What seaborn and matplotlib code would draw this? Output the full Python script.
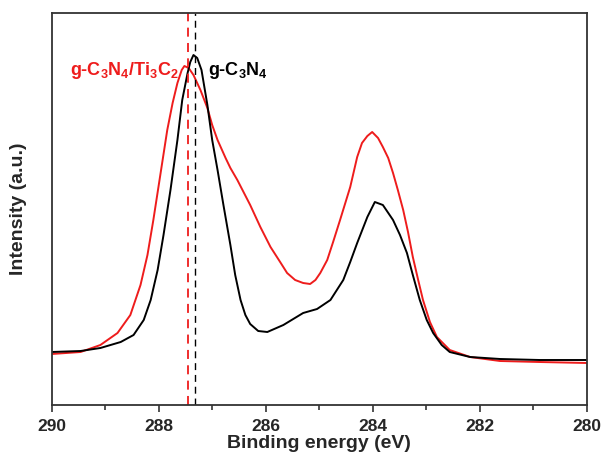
import numpy as np
import pandas as pd
import matplotlib
matplotlib.use("Agg")
import matplotlib.pyplot as plt
import seaborn as sns

# ---- data ----
energy_gcn = [290.00, 289.46, 289.09, 288.71, 288.47, 288.28, 288.15, 288.02, 287.91, 287.78,
              287.65, 287.56, 287.46, 287.41, 287.35, 287.28, 287.20, 287.09, 287.00, 286.90,
              286.79, 286.66, 286.57, 286.47, 286.38, 286.29, 286.14, 285.97, 285.67, 285.30,
              285.04, 284.79, 284.55, 284.42, 284.29, 284.10, 283.96, 283.81, 283.62, 283.49,
              283.36, 283.25, 283.12, 282.99, 282.87, 282.71, 282.56, 282.18, 281.62, 280.88,
              280.00]
intensity_gcn = [51, 52, 55, 61, 68, 83, 103, 133, 168, 213,
                 263, 303, 330, 341, 348, 345, 333, 298, 263, 233,
                 198, 158, 128, 103, 88, 79, 72, 71, 78, 90,
                 94, 103, 123, 141, 160, 186, 201, 198, 183, 168,
                 150, 128, 103, 83, 70, 58, 51, 46, 44, 43,
                 43]

energy_comp = [290.00, 289.46, 289.09, 288.77, 288.53, 288.34, 288.21, 288.10, 287.97, 287.84,
               287.74, 287.65, 287.57, 287.52, 287.44, 287.35, 287.22, 287.09, 287.00, 286.90,
               286.75, 286.66, 286.53, 286.29, 286.10, 285.91, 285.73, 285.60, 285.45, 285.30,
               285.17, 285.07, 284.98, 284.85, 284.74, 284.61, 284.42, 284.29, 284.20, 284.10,
               284.01, 283.90, 283.81, 283.71, 283.62, 283.53, 283.43, 283.34, 283.25, 283.15,
               283.06, 282.93, 282.80, 282.56, 282.18, 281.62, 280.88, 280.00]
intensity_comp = [49, 51, 58, 70, 88, 118, 148, 183, 228, 273,
                  300, 320, 333, 337, 335, 328, 313, 295, 278, 263,
                  245, 235, 223, 198, 176, 156, 141, 130, 123, 120,
                  119, 123, 130, 143, 161, 183, 216, 246, 260, 267,
                  271, 265, 256, 245, 230, 213, 193, 171, 146, 123,
                  103, 81, 66, 53, 46, 42, 41, 40]

peak_comp = 287.46
peak_gcn = 287.33

x_ticks = [290, 288, 286, 284, 282, 280]
label_comp = r"g-C$_3$N$_4$/Ti$_3$C$_2$"
label_gcn = r"g-C$_3$N$_4$"

# ---- style ----
sns.set_style("ticks")
plt.rcParams["font.family"] = ["Liberation Sans", "DejaVu Sans"]
plt.rcParams["mathtext.fontset"] = "custom"
plt.rcParams["mathtext.rm"] = "Liberation Sans:bold"
plt.rcParams["mathtext.bf"] = "Liberation Sans:bold"
plt.rcParams["mathtext.it"] = "Liberation Sans:bold"
plt.rcParams["mathtext.default"] = "bf"

fig = plt.figure(figsize=(6.04, 4.58), dpi=100)
ax = fig.add_axes([51.7 / 604, 1 - 405 / 458, 535 / 604, (405 - 12.5) / 458])

df_gcn = pd.DataFrame({"E": energy_gcn, "I": intensity_gcn})
df_comp = pd.DataFrame({"E": energy_comp, "I": intensity_comp})

sns.lineplot(data=df_comp, x="E", y="I", sort=False, color="#ee1c1c", lw=1.4, ax=ax)
sns.lineplot(data=df_gcn, x="E", y="I", sort=False, color="black", lw=1.4, ax=ax)

ax.axvline(peak_comp, color="#ee1c1c", lw=1.3, ls=(0, (5, 3.5)))
ax.axvline(peak_gcn, color="black", lw=1.0, ls=(0, (5, 3.5)))

ax.set_xlim(290, 280)
ax.set_ylim(-2, 390.5)
ax.set_xticks(x_ticks)
ax.set_xticks([289, 287, 285, 283, 281], minor=True)
ax.set_yticks([])
ax.tick_params(axis="x", which="major", direction="out", length=5, width=1.2,
               labelsize=12.5, pad=5, color="#333333")
ax.tick_params(axis="x", which="minor", direction="out", length=3.5, width=1.2, color="#333333")
for lab in ax.get_xticklabels():
    lab.set_fontweight("bold")
for s in ax.spines.values():
    s.set_visible(True)
    s.set_linewidth(1.3)
    s.set_color("#333333")

ax.set_xlabel("Binding energy (eV)", fontsize=14, fontweight="bold", labelpad=1)
ax.set_ylabel("Intensity (a.u.)", fontsize=14, fontweight="bold", labelpad=18)

ax.text(287.62, 328, label_comp, color="#ee1c1c", fontsize=13, fontweight="bold",
        ha="right", va="baseline")
ax.text(287.07, 328, label_gcn, color="black", fontsize=13, fontweight="bold",
        ha="left", va="baseline")

fig.savefig("out.png", dpi=100)
